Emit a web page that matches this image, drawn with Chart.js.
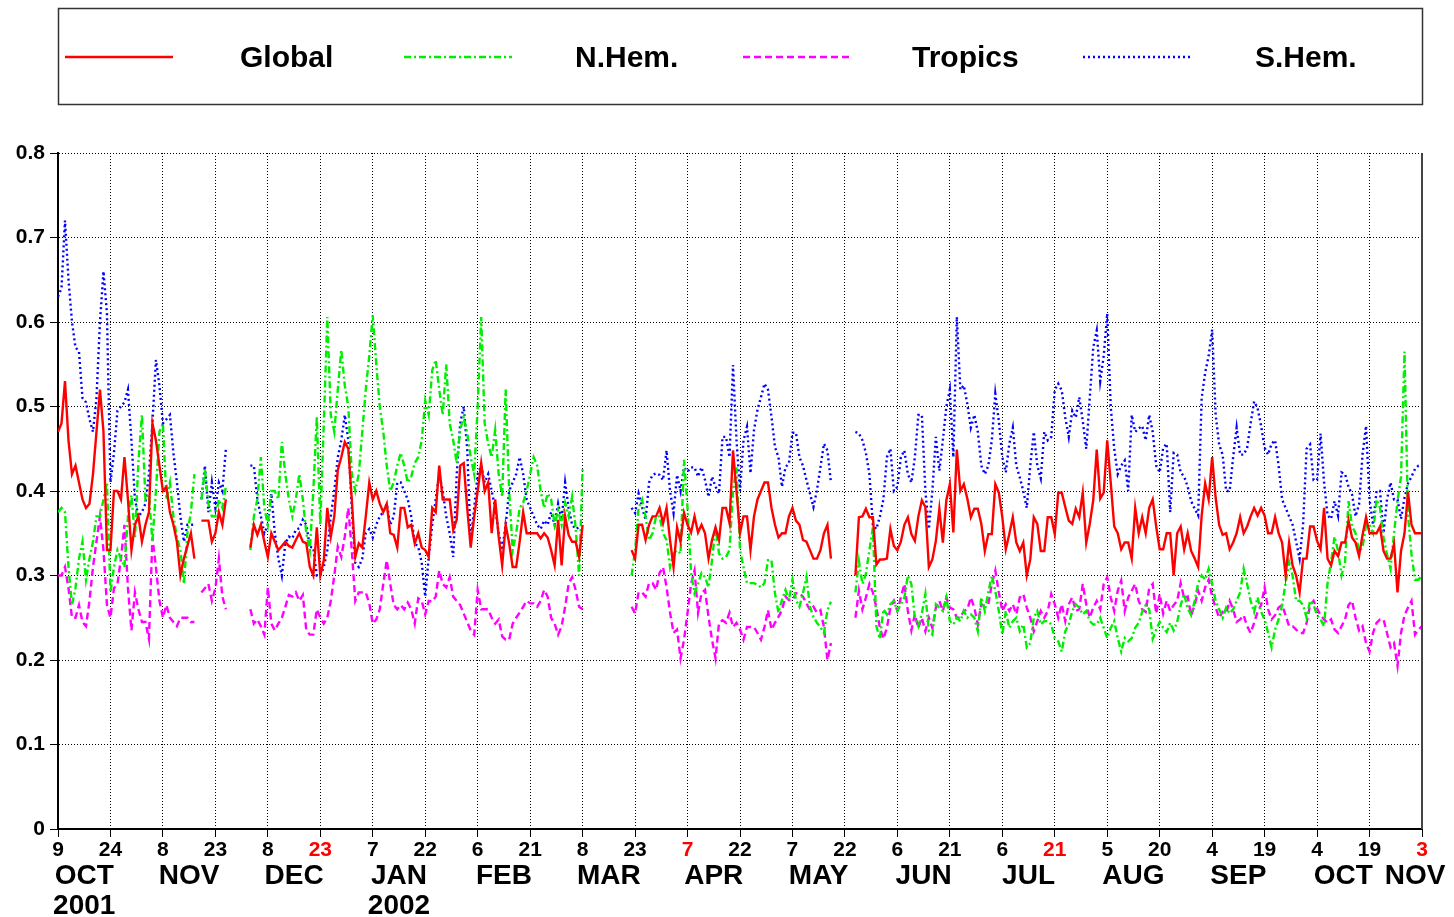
<!DOCTYPE html>
<html>
<head>
<meta charset="utf-8">
<script src="https://cdn.jsdelivr.net/npm/chart.js@4.4.0/dist/chart.umd.min.js"></script>
<style>
  html, body { margin: 0; padding: 0; background: #fff; }
</style>
</head>
<body>
<canvas id="chart" width="1454" height="917"></canvas>
<script>
// day 0 = 9 OCT 2001, one value per day, null = no data
const tickDay = [0, 15, 30, 45, 60, 75, 90, 105, 120, 135, 150, 165, 180, 195, 210, 225, 240, 255, 270, 285, 300, 315, 330, 345, 360, 375, 390];
const dayTicks = ['9','24','8','23','8','23','7','22','6','21','8','23','7','22','7','22','6','21','6','21','5','20','4','19','4','19','3'];
const redTicks = [5, 12, 19, 26];
const monthNames = ['OCT','NOV','DEC','JAN','FEB','MAR','APR','MAY','JUN','JUL','AUG','SEP','OCT','NOV'];
const monthPos = [7.5, 37.5, 67.5, 97.5, 127.5, 157.5, 187.5, 217.5, 247.5, 277.5, 307.5, 337.5, 367.5, 388];
const yearNames = ['2001', '2002'];
const yearPos = [7.5, 97.5];

const globalVals = [
  // oct 9 - nov 17
  0.47,0.48,0.53,0.46,0.42,0.43,0.41,0.39,0.38,0.385, 0.42,0.47,0.52,0.47,0.33,0.33,0.40,0.40,0.39,0.44,
  0.39,0.33,0.36,0.37,0.34,0.36,0.375,0.48,0.46,0.43, 0.40,0.405,0.375,0.36,0.34,0.30,0.32,0.335,0.35,0.32,
  null,
  0.365,0.365,0.365,0.34,0.35,0.375,0.36,0.39,
  null,null,null,null,null,null,
  // dec 3 - mar 8
  0.333,0.36,0.348,0.36,0.34,0.322,0.35,0.34,0.33,0.335, 0.34,0.335,0.333,0.342,0.35,0.34,0.338,0.31,0.30,0.357,
  0.30,0.318,0.38,0.346,0.37,0.425,0.44,0.458,0.45,0.39, 0.322,0.338,0.333,0.37,0.41,0.39,0.40,0.385,0.375,0.385,
  0.35,0.348,0.333,0.38,0.38,0.357,0.36,0.338,0.35,0.333, 0.33,0.322,0.38,0.375,0.43,0.39,0.39,0.39,0.354,0.366,
  0.43,0.433,0.38,0.333,0.37,0.40,0.433,0.40,0.41,0.35, 0.39,0.346,0.312,0.36,0.338,0.31,0.31,0.34,0.375,0.35,
  0.35,0.35,0.35,0.344,0.35,0.345,0.33,0.312,0.366,0.312, 0.37,0.348,0.34,0.34,0.322,0.36,
  null,null,null,null,null,null,null,null,null,null,null,null,null,
  // mar 22 - may 18
  0.33,0.32,0.36,0.36,0.342,0.36,0.37,0.37,0.38,0.362, 0.38,0.342,0.31,0.357,0.34,0.374,0.36,0.351,0.37,0.351,
  0.36,0.35,0.32,0.342,0.357,0.342,0.38,0.38,0.362,0.448, 0.40,0.35,0.37,0.37,0.33,0.37,0.39,0.40,0.41,0.41,
  0.38,0.36,0.345,0.35,0.35,0.37,0.38,0.365,0.36,0.342, 0.34,0.33,0.32,0.32,0.33,0.35,0.36,0.32,
  null,null,null,null,null,null,
  // may 25 - nov 3
  0.30,0.369,0.37,0.379,0.369,0.369,0.313,0.319,0.319,0.32, 0.355,0.335,0.33,0.34,0.36,0.369,0.349,0.341,0.37,0.389,
  0.381,0.31,0.319,0.341,0.379,0.339,0.389,0.408,0.351,0.449, 0.40,0.408,0.391,0.369,0.379,0.379,0.361,0.329,0.349,0.349,
  0.408,0.398,0.369,0.331,0.349,0.369,0.339,0.329,0.339,0.30, 0.319,0.369,0.361,0.329,0.329,0.369,0.369,0.349,0.398,0.398,
  0.381,0.365,0.361,0.379,0.369,0.398,0.339,0.361,0.389,0.449, 0.391,0.398,0.46,0.41,0.358,0.35,0.331,0.339,0.339,0.32,
  0.38,0.35,0.369,0.35,0.38,0.39,0.358,0.331,0.331,0.35, 0.35,0.30,0.35,0.358,0.331,0.35,0.329,0.32,0.31,0.371,
  0.409,0.39,0.44,0.392,0.36,0.348,0.35,0.331,0.339,0.35, 0.369,0.35,0.358,0.37,0.38,0.371,0.38,0.371,0.35,0.35,
  0.369,0.35,0.339,0.30,0.339,0.312,0.30,0.28,0.32,0.32, 0.358,0.358,0.341,0.331,0.38,0.32,0.312,0.329,0.323,0.339,
  0.339,0.365,0.345,0.339,0.323,0.348,0.369,0.35,0.35,0.35, 0.358,0.329,0.32,0.32,0.337,0.28,0.329,0.35,0.399,0.36,
  0.35,0.35,0.35
];

const nhemVals = [
  0.375,0.38,0.375,0.31,0.265,0.285,0.32,0.34,0.295,0.32, 0.34,0.37,0.37,0.39,0.41,0.28,0.31,0.33,0.32,0.31,
  0.37,0.395,0.345,0.435,0.49,0.39,0.395,0.34,0.40,0.47, 0.48,0.39,0.41,0.37,0.345,0.33,0.29,0.35,0.375,0.42,
  null,
  0.39,0.425,0.385,0.37,0.37,0.39,0.38,0.405,
  null,null,null,null,null,null,
  0.33,0.37,0.39,0.44,0.38,0.36,0.40,0.40,0.39,0.458, 0.42,0.39,0.37,0.39,0.42,0.39,0.35,0.33,0.40,0.488,
  0.36,0.48,0.606,0.49,0.47,0.52,0.567,0.525,0.50,0.42, 0.40,0.42,0.47,0.52,0.56,0.608,0.55,0.50,0.47,0.43,
  0.40,0.41,0.43,0.445,0.43,0.41,0.417,0.433,0.44,0.46, 0.507,0.49,0.543,0.555,0.52,0.49,0.55,0.48,0.46,0.433,
  0.472,0.488,0.468,0.44,0.42,0.50,0.606,0.48,0.456,0.44, 0.472,0.42,0.393,0.52,0.40,0.33,0.35,0.38,0.386,0.40,
  0.42,0.44,0.43,0.40,0.38,0.397,0.39,0.36,0.377,0.36, 0.386,0.37,0.393,0.357,0.30,0.428,
  null,null,null,null,null,null,null,null,null,null,null,null,null,
  0.30,0.33,0.38,0.39,0.37,0.342,0.35,0.37,0.37,0.35, 0.342,0.31,0.326,0.33,0.326,0.437,0.38,0.303,0.279,0.29,
  0.303,0.298,0.286,0.318,0.357,0.326,0.32,0.322,0.33,0.40, 0.428,0.33,0.31,0.291,0.291,0.291,0.289,0.286,0.291,0.318,
  0.318,0.279,0.256,0.271,0.283,0.271,0.295,0.271,0.263,0.279, 0.298,0.263,0.251,0.244,0.239,0.232,0.259,0.269,
  null,null,null,null,null,null,
  0.28,0.317,0.29,0.302,0.33,0.357,0.24,0.225,0.26,0.254, 0.266,0.27,0.258,0.266,0.274,0.30,0.29,0.25,0.24,0.255,
  0.278,0.234,0.23,0.266,0.262,0.258,0.274,0.246,0.242,0.25, 0.246,0.258,0.25,0.254,0.25,0.234,0.274,0.258,0.28,0.30,
  0.282,0.258,0.23,0.258,0.238,0.246,0.25,0.234,0.242,0.215, 0.22,0.25,0.258,0.242,0.246,0.246,0.242,0.226,0.222,0.21,
  0.234,0.242,0.258,0.266,0.262,0.254,0.258,0.246,0.242,0.242, 0.25,0.238,0.226,0.238,0.246,0.226,0.21,0.226,0.222,0.226,
  0.238,0.244,0.257,0.265,0.26,0.225,0.236,0.245,0.238,0.233, 0.244,0.235,0.245,0.265,0.278,0.261,0.253,0.27,0.291,0.30,
  0.295,0.308,0.29,0.27,0.26,0.25,0.262,0.255,0.26,0.27, 0.28,0.308,0.29,0.27,0.257,0.274,0.257,0.248,0.232,0.215,
  0.236,0.248,0.265,0.291,0.316,0.30,0.27,0.27,0.265,0.25, 0.27,0.265,0.253,0.248,0.24,0.291,0.316,0.346,0.329,0.30,
  0.316,0.388,0.358,0.35,0.329,0.333,0.36,0.36,0.35,0.39, 0.38,0.345,0.325,0.308,0.35,0.388,0.417,0.565,0.371,0.325,
  0.295,0.295,0.30
];

const tropicsVals = [
  0.30,0.30,0.31,0.285,0.25,0.25,0.265,0.245,0.24,0.27, 0.31,0.34,0.37,0.33,0.265,0.25,0.285,0.29,0.32,0.36,
  0.285,0.235,0.28,0.26,0.245,0.245,0.225,0.345,0.31,0.27, 0.25,0.265,0.25,0.245,0.24,0.25,0.25,0.25,0.245,0.245,
  null,
  0.28,0.285,0.29,0.27,0.285,0.32,0.275,0.26,
  null,null,null,null,null,null,
  0.26,0.243,0.248,0.24,0.23,0.286,0.243,0.235,0.243,0.25, 0.263,0.277,0.275,0.28,0.27,0.277,0.235,0.23,0.23,0.26,
  0.25,0.243,0.25,0.27,0.30,0.334,0.322,0.346,0.38,0.33, 0.27,0.28,0.28,0.28,0.267,0.243,0.248,0.26,0.29,0.318,
  0.29,0.265,0.26,0.265,0.26,0.268,0.26,0.243,0.273,0.27, 0.254,0.27,0.269,0.275,0.306,0.29,0.286,0.298,0.275,0.27,
  0.265,0.255,0.245,0.235,0.23,0.283,0.26,0.26,0.26,0.25, 0.243,0.248,0.228,0.224,0.224,0.243,0.25,0.256,0.263,0.27,
  0.267,0.267,0.263,0.27,0.283,0.275,0.25,0.243,0.23,0.24, 0.263,0.29,0.298,0.283,0.263,0.26,
  null,null,null,null,null,null,null,null,null,null,null,null,null,
  0.263,0.255,0.28,0.28,0.275,0.291,0.291,0.283,0.303,0.31, 0.286,0.256,0.232,0.236,0.202,0.224,0.256,0.29,0.306,0.256,
  0.279,0.283,0.251,0.224,0.202,0.244,0.247,0.244,0.256,0.239, 0.244,0.236,0.224,0.239,0.239,0.239,0.232,0.224,0.239,0.259,
  0.236,0.244,0.251,0.259,0.275,0.271,0.271,0.279,0.279,0.275, 0.267,0.259,0.263,0.256,0.259,0.239,0.20,0.22,
  null,null,null,null,null,null,
  0.25,0.282,0.26,0.274,0.29,0.28,0.262,0.238,0.225,0.238, 0.262,0.27,0.258,0.274,0.29,0.258,0.235,0.254,0.238,0.25,
  0.234,0.25,0.238,0.262,0.27,0.258,0.274,0.262,0.26,0.25, 0.25,0.258,0.26,0.274,0.262,0.242,0.266,0.264,0.266,0.29,
  0.306,0.28,0.258,0.266,0.258,0.266,0.254,0.274,0.278,0.262, 0.25,0.234,0.246,0.258,0.25,0.258,0.278,0.266,0.25,0.266,
  0.246,0.266,0.274,0.258,0.26,0.29,0.266,0.25,0.262,0.27, 0.26,0.29,0.298,0.274,0.258,0.282,0.294,0.258,0.274,0.282,
  0.29,0.27,0.26,0.257,0.285,0.29,0.255,0.278,0.255,0.27, 0.258,0.265,0.27,0.291,0.273,0.275,0.253,0.265,0.282,0.27,
  0.286,0.295,0.275,0.262,0.25,0.257,0.255,0.27,0.26,0.245, 0.248,0.253,0.24,0.232,0.244,0.257,0.265,0.286,0.26,0.248,
  0.253,0.262,0.265,0.253,0.24,0.24,0.236,0.232,0.232,0.244, 0.265,0.27,0.261,0.253,0.248,0.244,0.248,0.236,0.232,0.24,
  0.248,0.265,0.27,0.25,0.235,0.24,0.22,0.21,0.232,0.244, 0.248,0.248,0.232,0.215,0.22,0.193,0.232,0.253,0.262,0.27,
  0.23,0.236,0.24
];

const shemVals = [
  0.63,0.64,0.72,0.65,0.60,0.57,0.565,0.51,0.505,0.485, 0.47,0.51,0.60,0.66,0.61,0.41,0.445,0.495,0.50,0.505,
  0.52,0.46,0.39,0.37,0.375,0.385,0.42,0.48,0.555,0.525, 0.48,0.485,0.49,0.445,0.41,0.37,0.34,0.36,0.36,0.36,
  null,
  0.39,0.43,0.375,0.41,0.38,0.41,0.40,0.45,
  null,null,null,null,null,null,
  0.43,0.43,0.39,0.37,0.35,0.36,0.397,0.35,0.32,0.30, 0.338,0.346,0.344,0.354,0.356,0.366,0.36,0.334,0.333,0.30,
  0.30,0.31,0.33,0.37,0.40,0.44,0.46,0.49,0.46,0.38, 0.315,0.31,0.32,0.35,0.355,0.345,0.36,0.37,0.375,0.385,
  0.36,0.37,0.41,0.41,0.40,0.39,0.37,0.338,0.334,0.315, 0.275,0.322,0.36,0.39,0.42,0.40,0.37,0.35,0.322,0.42,
  0.48,0.50,0.45,0.34,0.38,0.42,0.43,0.41,0.42,0.40, 0.38,0.35,0.33,0.36,0.40,0.41,0.42,0.44,0.42,0.39,
  0.38,0.37,0.36,0.355,0.365,0.36,0.375,0.36,0.385,0.366, 0.41,0.38,0.36,0.355,0.357,0.354,
  null,null,null,null,null,null,null,null,null,null,null,null,null,
  0.38,0.374,0.397,0.381,0.366,0.41,0.419,0.421,0.419,0.413, 0.448,0.40,0.374,0.419,0.40,0.428,0.423,0.428,0.428,0.417,
  0.428,0.413,0.393,0.417,0.405,0.397,0.464,0.464,0.44,0.549, 0.46,0.40,0.46,0.476,0.421,0.472,0.496,0.511,0.527,0.52,
  0.488,0.452,0.44,0.405,0.428,0.433,0.469,0.469,0.44,0.43, 0.413,0.397,0.381,0.401,0.428,0.456,0.448,0.41,
  null,null,null,null,null,null,
  0.47,0.468,0.46,0.445,0.42,0.36,0.355,0.37,0.39,0.44, 0.45,0.40,0.405,0.44,0.448,0.42,0.41,0.44,0.49,0.49,
  0.40,0.355,0.40,0.464,0.424,0.46,0.50,0.52,0.44,0.606, 0.52,0.525,0.503,0.475,0.49,0.47,0.43,0.42,0.43,0.46,
  0.515,0.483,0.44,0.422,0.456,0.475,0.43,0.416,0.40,0.38, 0.43,0.47,0.43,0.415,0.47,0.46,0.464,0.52,0.527,0.519,
  0.487,0.464,0.495,0.487,0.511,0.483,0.45,0.51,0.57,0.59, 0.53,0.56,0.61,0.50,0.45,0.42,0.43,0.436,0.40,0.49,
  0.47,0.474,0.477,0.46,0.49,0.47,0.43,0.422,0.451,0.456, 0.375,0.445,0.443,0.422,0.417,0.405,0.388,0.379,0.371,0.51,
  0.54,0.56,0.591,0.49,0.455,0.443,0.40,0.40,0.44,0.475, 0.443,0.443,0.451,0.48,0.506,0.498,0.477,0.451,0.443,0.456,
  0.46,0.43,0.39,0.38,0.37,0.36,0.34,0.32,0.36,0.45, 0.455,0.413,0.413,0.468,0.41,0.371,0.367,0.388,0.371,0.422,
  0.42,0.405,0.396,0.37,0.384,0.443,0.477,0.39,0.36,0.40, 0.40,0.35,0.39,0.41,0.39,0.39,0.367,0.392,0.409,0.417,
  0.426,0.43,0.43
];

const FONT = '"Liberation Sans", Arial, Helvetica, sans-serif';
const toPoints = arr => arr.map((v, i) => ({ x: i, y: v }));

// legend layout (sample line start, text start)
const legendLineX = [65, 404, 743, 1083];
const legendTextX = [240, 575, 912, 1255];

const decorations = {
  id: 'decorations',
  afterDraw(chart) {
    const ctx = chart.ctx;
    const area = chart.chartArea;
    const xs = chart.scales.x;
    ctx.save();

    // right frame edge
    ctx.strokeStyle = '#444';
    ctx.lineWidth = 2;
    ctx.beginPath();
    ctx.moveTo(area.right, area.top);
    ctx.lineTo(area.right, area.bottom);
    ctx.stroke();

    // month and year labels under the day ticks
    ctx.fillStyle = '#000';
    ctx.textAlign = 'center';
    ctx.textBaseline = 'middle';
    ctx.font = 'bold 28px ' + FONT;
    monthNames.forEach((m, i) => ctx.fillText(m, xs.getPixelForValue(monthPos[i]), 876));
    yearNames.forEach((y, i) => ctx.fillText(y, xs.getPixelForValue(yearPos[i]), 906));

    // legend box
    ctx.strokeStyle = '#333';
    ctx.lineWidth = 1.5;
    ctx.strokeRect(58.5, 8.5, 1364, 96);
    ctx.textAlign = 'left';
    ctx.font = 'bold 30px ' + FONT;
    chart.data.datasets.forEach((ds, i) => {
      const x0 = legendLineX[i];
      ctx.strokeStyle = ds.borderColor;
      ctx.lineWidth = ds.borderWidth;
      ctx.setLineDash(ds.borderDash || []);
      ctx.beginPath();
      ctx.moveTo(x0, 57);
      ctx.lineTo(x0 + 108, 57);
      ctx.stroke();
      ctx.setLineDash([]);
      ctx.fillStyle = '#000';
      ctx.fillText(ds.label, legendTextX[i], 59);
    });
    ctx.restore();
  }
};

new Chart(document.getElementById('chart'), {
  type: 'line',
  data: {
    datasets: [
      { label: 'Global', data: toPoints(globalVals), borderColor: '#ff0000', borderWidth: 2.4 },
      { label: 'N.Hem.', data: toPoints(nhemVals), borderColor: '#00ee00', borderWidth: 2.4, borderDash: [7, 3, 2, 3] },
      { label: 'Tropics', data: toPoints(tropicsVals), borderColor: '#ff00ff', borderWidth: 2.4, borderDash: [7, 4] },
      { label: 'S.Hem.', data: toPoints(shemVals), borderColor: '#0000ff', borderWidth: 2.4, borderDash: [2, 3] }
    ]
  },
  options: {
    responsive: false,
    animation: false,
    devicePixelRatio: 1,
    layout: { padding: { top: 153, right: 32, left: 0, bottom: 0 } },
    elements: { point: { radius: 0 }, line: { tension: 0, fill: false } },
    plugins: { legend: { display: false }, tooltip: { enabled: false } },
    scales: {
      x: {
        type: 'linear',
        min: 0,
        max: 390,
        afterBuildTicks: s => { s.ticks = tickDay.map(v => ({ value: v })); },
        afterFit: s => { s.height = 88; },
        ticks: {
          autoSkip: false,
          maxRotation: 0,
          padding: 1,
          font: { family: FONT, size: 21, weight: 'bold' },
          color: c => redTicks.includes(c.index) ? '#ff0000' : '#000',
          callback: (v, i) => dayTicks[i]
        },
        grid: { color: '#000', lineWidth: 1, tickLength: 8 },
        border: { display: true, color: '#000', width: 2, dash: [1, 2] }
      },
      y: {
        min: 0,
        max: 0.8,
        afterFit: s => { s.width = 58; },
        ticks: {
          stepSize: 0.1,
          padding: 5,
          font: { family: FONT, size: 21, weight: 'bold' },
          color: '#000',
          callback: v => v === 0 ? '0' : v.toFixed(1)
        },
        grid: { color: '#000', lineWidth: 1, tickLength: 8 },
        border: { display: true, color: '#000', width: 2, dash: [1, 2] }
      }
    }
  },
  plugins: [decorations]
});
</script>
</body>
</html>
